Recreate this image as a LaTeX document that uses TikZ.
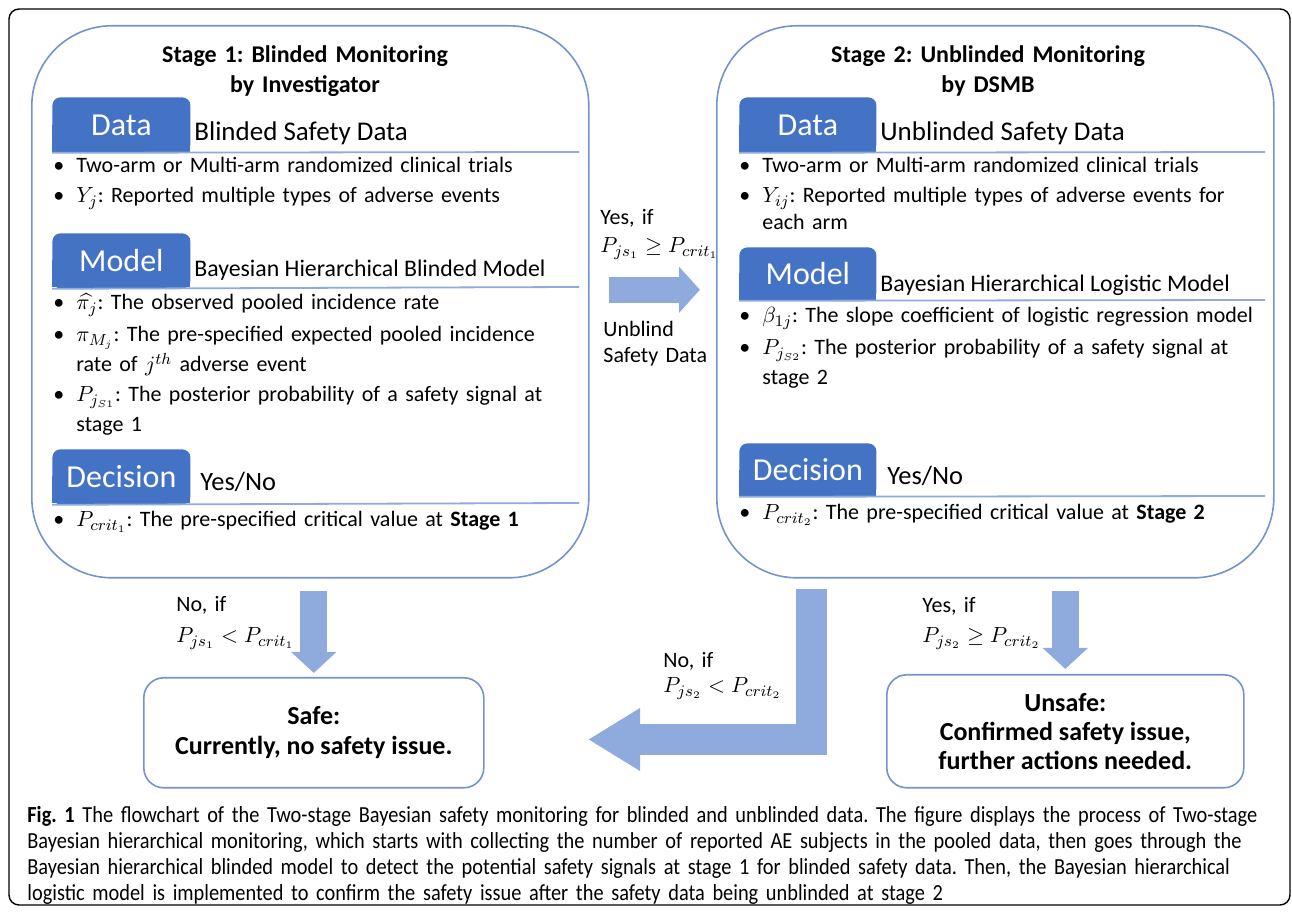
\documentclass[tikz,border=0pt]{standalone}
\usepackage{fontspec}
\setmainfont{Carlito}
\newfontfamily\capfont[FakeStretch=0.885]{Carlito}
\usepackage{amsmath}
\usepackage{amssymb}
\usetikzlibrary{positioning,arrows.meta}
\definecolor{tabblue}{HTML}{4472C4}
\definecolor{lineblue}{HTML}{8FAADC}
\definecolor{boxblue}{HTML}{7393CC}
\definecolor{arrowblue}{HTML}{8FAADC}
\frenchspacing

\begin{document}
\begin{tikzpicture}[x=0.5pt, y=-0.5pt,
    stage/.style={%
      draw=boxblue,
      line width=0.8pt,
      rounded corners=40pt,
      minimum width=278.5pt,
      minimum height=276pt,
      anchor=north west,
    },
    title/.style={anchor=base, inner sep=0pt, text width=220pt, align=center,
      font=\bfseries\fontsize{12}{15}\selectfont},
    tab/.style={fill=tabblue, text=white, rounded corners=4pt, inner sep=0pt,
      minimum width=69pt, minimum height=27.5pt, anchor=north west,
      font=\fontsize{16}{18}\selectfont},
    sub/.style={anchor=base west, inner sep=0pt, font=\fontsize{13.5}{15}\selectfont},
    item/.style={anchor=base west, inner sep=0pt, text width=256pt, align=left,
      font=\fontsize{11}{15}\selectfont},
    rule/.style={draw=lineblue, line width=0.9pt},
    lbl/.style={anchor=base west, inner sep=0pt, text width=70pt, align=left,
      font=\fontsize{11}{14}\selectfont},
    result/.style={draw=boxblue, line width=0.8pt, rounded corners=10pt,
      anchor=north west, align=center, font=\bfseries\fontsize{13}{15}\selectfont},
    fat/.style={draw=arrowblue, line width=13.5pt,
      -{Triangle[width=22pt,length=10.5pt]}},
  ]

    \useasboundingbox (0,0) rectangle (1292,913);
    \draw [line width=0.7pt, rounded corners=5pt] (9,9) rectangle (1290,905);

    % stage 1
    \node [stage] (S1) at (31,25) {};
    \node [title] (T1) at (305,63) {Stage 1: Blinded Monitoring\\by Investigator};

    \fill [tabblue] (52,125) rectangle (190,152);
    \node [tab, minimum width=69pt] (D1) at (52,97) {Data};
    \node [sub] (D1t) at (194,141) {Blinded Safety Data};
    \draw [rule] (D1.south west) -- (579,152);
    \node [item] (A1) at (76,173) {\llap{\textbullet\hspace{6pt}}Two-arm or Multi-arm randomized clinical trials};
    \node [item] (A2) at (76,203) {\llap{\textbullet\hspace{6pt}}$Y_j$: Reported multiple types of adverse events};

    \fill [tabblue] (52,260) rectangle (190,287);
    \node [tab] (M1) at (52,233) {Model};
    \node [sub, font=\fontsize{11.9}{13}\selectfont] (M1t) at (194,277) {Bayesian Hierarchical Blinded Model};
    \draw [rule] (M1.south west) -- (579,287);
    \node [item] (B1) at (76,310) {\llap{\textbullet\hspace{6pt}}$\widehat{\pi_j}$: The observed pooled incidence rate};
    \node [item] (B2) at (76,342) {\llap{\textbullet\hspace{6pt}}$\pi_{M_j}$: The pre-specified expected pooled incidence\\rate of $j^{th}$ adverse event};
    \node [item] (B3) at (76,402) {\llap{\textbullet\hspace{6pt}}$P_{j_{S1}}$: The posterior probability of a safety signal at\\stage 1};

    \fill [tabblue] (52,476) rectangle (190,503);
    \node [tab] (C1) at (52,449) {Decision};
    \node [sub, font=\fontsize{13.2}{15}\selectfont] (C1t) at (200,491) {Yes/No};
    \draw [rule] (C1.south west) -- (579,503);
    \node [item] (E1) at (76,527) {\llap{\textbullet\hspace{6pt}}$P_{crit_1}$: The pre-specified critical value at \textbf{Stage 1}};

    % stage 2
    \node [stage] (S2) at (716,25) {};
    \node [title] (T2) at (988,63) {Stage 2: Unblinded Monitoring\\by DSMB};

    \fill [tabblue] (739,125) rectangle (876,152);
    \node [tab, minimum width=68.5pt] (D2) at (739,97) {Data};
    \node [sub] (D2t) at (880,141) {Unblinded Safety Data};
    \draw [rule] (D2.south west) -- (1265,152);
    \node [item] (F1) at (762,173) {\llap{\textbullet\hspace{6pt}}Two-arm or Multi-arm randomized clinical trials};
    \node [item, font=\fontsize{11}{13.5}\selectfont] (F2) at (762,203) {\llap{\textbullet\hspace{6pt}}$Y_{ij}$: Reported multiple types of adverse events for\\each arm};

    \fill [tabblue] (739,273) rectangle (876,300);
    \node [tab, minimum width=68.5pt, minimum height=26.5pt] (M2) at (739,247) {Model};
    \node [sub, font=\fontsize{11.9}{13}\selectfont] (M2t) at (880,292) {Bayesian Hierarchical Logistic Model};
    \draw [rule] (M2.south west) -- (1265,300);
    \node [item] (G1) at (762,323) {\llap{\textbullet\hspace{6pt}}$\beta_{1j}$: The slope coefficient of logistic regression model};
    \node [item] (G2) at (762,355) {\llap{\textbullet\hspace{6pt}}$P_{j_{S2}}$: The posterior probability of a safety signal at\\stage 2};

    \fill [tabblue] (739,470) rectangle (876,496);
    \node [tab, minimum width=68.5pt, minimum height=26.5pt] (C2) at (739,443) {Decision};
    \node [sub, font=\fontsize{13.2}{15}\selectfont] (C2t) at (887,485) {Yes/No};
    \draw [rule] (C2.south west) -- (1265,496);
    \node [item] (H1) at (762,520) {\llap{\textbullet\hspace{6pt}}$P_{crit_2}$: The pre-specified critical value at \textbf{Stage 2}};

    % outcomes
    \node [result, minimum width=170pt, minimum height=55pt] (Safe) at (143,677) {Safe:\\Currently, no safety issue.};
    \node [result, minimum width=178.5pt, minimum height=56.5pt, font=\bfseries\fontsize{13}{14.5}\selectfont]
      (Unsafe) at (886,674) {Unsafe:\\Confirmed safety issue,\\further actions needed.};
    \coordinate (L) at (588,739.5);

    \draw [fat, line width=13pt, -{Triangle[width=22.5pt,length=10.5pt]}]
      ([xshift=9.5pt,yshift=6pt]S1.east) -- ([xshift=-8pt,yshift=6pt]S2.west);
    \draw [fat] ([yshift=-6pt]Safe.north |- S1.south) -- ([yshift=2pt]Safe.north);
    \draw [fat] ([yshift=-6pt]Unsafe.north |- S2.south) -- ([yshift=2.5pt]Unsafe.north);
    \draw [fat, line width=15.5pt, line join=miter, -{Triangle[width=29.5pt,length=26pt]}]
      ([xshift=47.5pt,yshift=-5pt]S2.south west) |- (L);

    \node [lbl] (Y1) at (600,225) {Yes, if\\$P_{js_1} \geq P_{crit_1}$};
    \node [lbl, font=\fontsize{11}{13}\selectfont] (U1) at (603,337) {Unblind\\Safety Data};
    \node [lbl, font=\fontsize{11}{15.5}\selectfont] (N1) at (176,612) {No, if\\$P_{js_1} < P_{crit_1}$};
    \node [lbl, font=\fontsize{11}{12.5}\selectfont] (N2) at (663,668) {No, if\\$P_{js_2} < P_{crit_2}$};
    \node [lbl, font=\fontsize{11}{15}\selectfont] (Y2) at (922,613) {Yes, if\\$P_{js_2} \geq P_{crit_2}$};

    % caption
    \node [anchor=base west, inner sep=0pt, text width=630pt, align=left,
      font=\capfont\fontsize{11.5}{13}\selectfont] (Cap) at (27,823)
      {\textbf{Fig. 1} The flowchart of the Two-stage Bayesian safety monitoring for blinded and unblinded data. The figure displays the process of Two-stage\\
       Bayesian hierarchical monitoring, which starts with collecting the number of reported AE subjects in the pooled data, then goes through the\\
       Bayesian hierarchical blinded model to detect the potential safety signals at stage 1 for blinded safety data. Then, the Bayesian hierarchical\\
       logistic model is implemented to confirm the safety issue after the safety data being unblinded at stage 2};

\end{tikzpicture}
\end{document}
